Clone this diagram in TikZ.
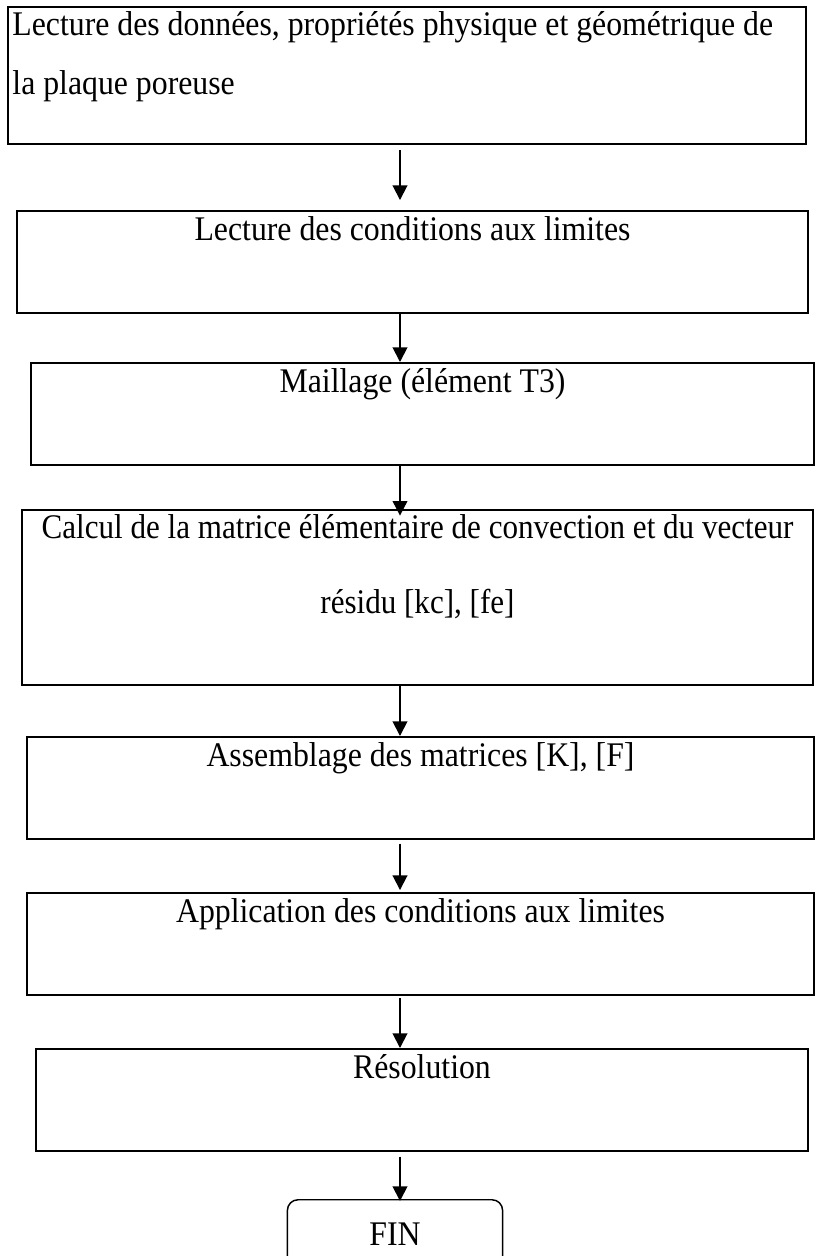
\documentclass[tikz,border=0pt]{standalone}
\usepackage{fontspec}
\setmainfont{Liberation Serif}[FakeStretch=0.92]
\newfontfamily\serre{Liberation Serif}[FakeStretch=0.90]
\usepackage{tikz}
\usetikzlibrary{arrows.meta, positioning, calc}

\begin{document}
\begin{tikzpicture}[
  etape/.style={rectangle, draw=black, line width=1.5pt, anchor=north,
    inner xsep=3pt, inner ysep=0pt, text height=22pt, text depth=54.5pt,
    align=center, font=\fontsize{26pt}{44pt}\selectfont},
  terminal/.style={rectangle, rounded corners=8pt, draw=black,
    line width=1.1pt, anchor=north, inner ysep=0pt, minimum width=162pt,
    text height=34.5pt, text depth=16pt,
    font=\fontsize{26pt}{44pt}\selectfont},
  fleche/.style={-{Triangle[length=11pt, width=11pt]}, line width=1.4pt},
]
\useasboundingbox (0,0) rectangle (21.59,-33.231);
\coordinate (axe) at (10.583,0);

\node[etape, text width=594pt, align=flush left, text height=21.75pt,
  text depth=81.75pt] (lecture) at (10.768,-0.159)
  {Lecture des données, propriétés physique et géométrique de\\
   la plaque poreuse};
\node[etape, minimum width=596pt] (cond) at (10.914,-5.556)
  {Lecture des conditions aux limites};
\node[etape, minimum width=589pt] (maillage) at (11.179,-9.578)
  {Maillage (élément T3)};
\node[etape, text width=590pt, align=flush center, text height=21.75pt,
  text depth=110.25pt, font=\serre\fontsize{26pt}{56pt}\selectfont]
  (calcul) at (11.046,-13.467)
  {Calcul de la matrice élémentaire de convection et du vecteur\\
   résidu [kc], [fe]};
\node[etape, minimum width=592pt] (assemblage) at (11.126,-19.473)
  {Assemblage des matrices [K], [F]};
\node[etape, minimum width=592pt] (application) at (11.126,-23.601)
  {Application des conditions aux limites};
\node[etape, minimum width=580.5pt] (resolution) at (11.165,-27.728)
  {Résolution};
\node[terminal] (fin) at (10.451,-31.723) {FIN};

% fleches
\draw[fleche, shorten <=3.75pt, shorten >=7.5pt]
  (lecture.south -| axe) -- (cond.north -| axe);
\draw[fleche] (cond.south -| axe) -- (maillage.north -| axe);
\draw[fleche, shorten >=-5pt] (maillage.south -| axe) -- (calcul.north -| axe);
\draw[fleche] (calcul.south -| axe) -- (assemblage.north -| axe);
\draw[fleche, shorten <=3pt, shorten >=1.5pt]
  (assemblage.south -| axe) -- (application.north -| axe);
\draw[fleche, shorten <=2pt]
  (application.south -| axe) -- (resolution.north -| axe);
\draw[fleche, shorten <=3.75pt, shorten >=-1.5pt]
  (resolution.south -| axe) -- (fin.north -| axe);
\end{tikzpicture}
\end{document}
